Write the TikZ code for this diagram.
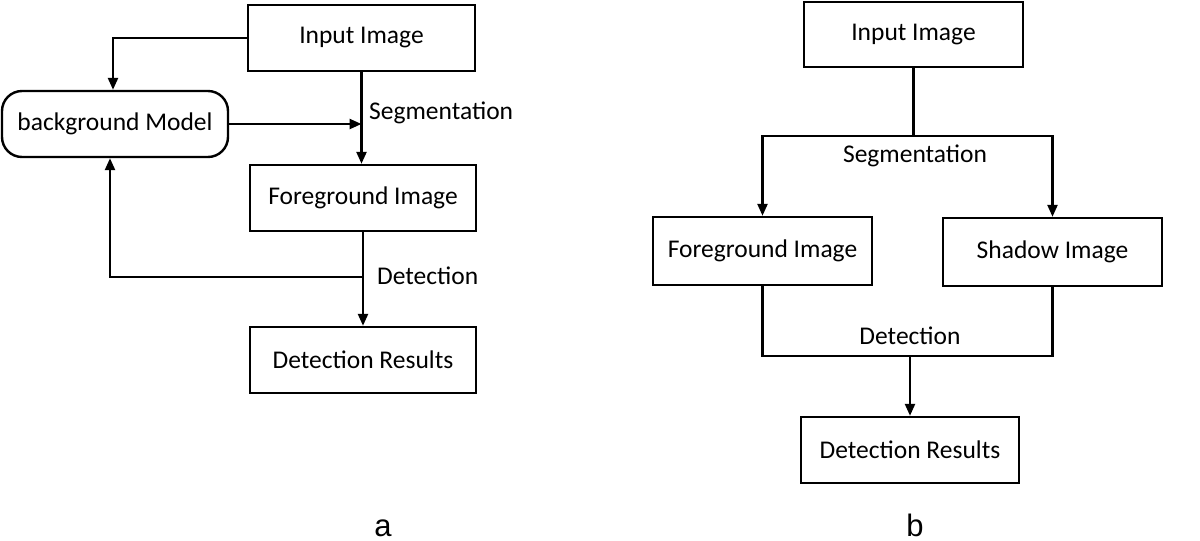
\documentclass[tikz,border=0pt]{standalone}
\usepackage{fontspec}
\setmainfont{Carlito}
\newfontfamily\letterfont{Liberation Sans}
\usetikzlibrary{arrows.meta}
\begin{document}
\begin{tikzpicture}[x=1pt,y=-1pt,
  every node/.style={font=\fontsize{25.5}{30}\selectfont, inner sep=0pt},
  box/.style={draw, line width=2.4pt, rectangle},
  rbox/.style={draw, line width=2.4pt, rectangle, rounded corners=20pt},
  conn/.style={line width=2.4pt},
  arr/.style={line width=2.4pt, -{Triangle[length=12pt,width=10pt]}},
  lbl/.style={font=\fontsize{25.5}{30}\selectfont},
  sublbl/.style={font=\letterfont\fontsize{31}{36}\selectfont, anchor=base}]
\useasboundingbox (0,0) rectangle (1200,541);
% ---- (a)
\node[box, minimum width=227pt, minimum height=66pt] (inA) at (361.5,38) {Input Image};
\node[rbox, minimum width=226pt, minimum height=66pt] (bg) at (115,124) {background Model};
\node[box, minimum width=226pt, minimum height=66pt] (fgA) at (363,198) {Foreground Image};
\node[box, minimum width=226pt, minimum height=66pt] (drA) at (363,360) {Detection Results};
\coordinate (bgin) at ([xshift=-2pt]bg.north);
\coordinate (bgfb) at ([xshift=-5pt]bg.south);
\coordinate (fb) at (363,277);
\draw[arr] (inA.west) -| (bgin);
\draw[arr] (inA.south) -- (inA.south |- fgA.north);
\draw[arr] (bg.east) -- (inA.south |- bg.east);
\draw[arr] (fgA.south) -- (drA.north);
\draw[arr] (fb) -| (bgfb);
\node[lbl, anchor=west] (segA) at (369,113) {Segmentation};
\node[lbl, anchor=west] (detA) at (377,276) {Detection};
\node[sublbl] (la) at (383,536) {a};
% ---- (b)
\node[box, minimum width=219pt, minimum height=65pt] (inB) at (913.5,34.5) {Input Image};
\node[box, minimum width=219pt, minimum height=68pt] (fgB) at (762.5,251) {Foreground Image};
\node[box, minimum width=219pt, minimum height=68pt] (shB) at (1052.5,252) {Shadow Image};
\node[box, minimum width=218pt, minimum height=66pt] (drB) at (910,450) {Detection Results};
\coordinate (sp) at (inB.south |- 0,136);
\coordinate (mg) at (drB.north |- 0,356);
\draw[conn] (inB.south) -- (sp);
\draw[arr] (sp) -| (fgB.north);
\draw[arr] (sp) -| (shB.north);
\draw[conn] (fgB.south) |- (mg) -| (shB.south);
\draw[arr] (mg) -- (drB.north);
\node[lbl] (segB) at (915,156) {Segmentation};
\node[lbl] (detB) at (910,336) {Detection};
\node[sublbl] (lb) at (915,536) {b};
\end{tikzpicture}
\end{document}
